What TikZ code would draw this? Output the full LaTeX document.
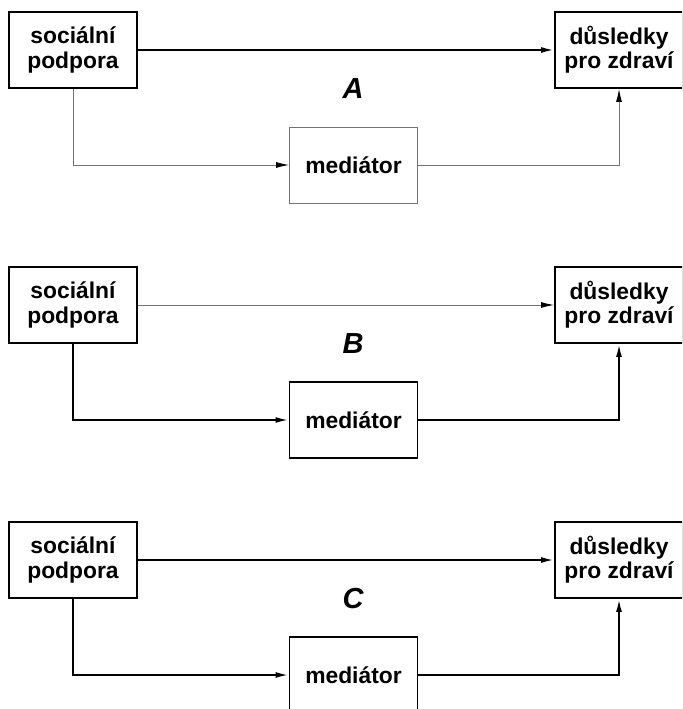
\documentclass[tikz,border=0pt]{standalone}
\usepackage{fontspec}
\setmainfont{Liberation Sans}
\usetikzlibrary{arrows.meta}

\begin{document}
\begin{tikzpicture}[x=0.02cm, y=-0.02cm,
  box/.style={rectangle, draw, line width=1.1pt, minimum width=2.56cm, minimum height=1.52cm, inner sep=0pt, align=center, font=\fontsize{13}{13.8}\selectfont\bfseries},
  faint/.style={draw=black!55, line width=0.5pt},
  link/.style={line width=1.1pt, -{Latex[length=2.6mm,width=1.2mm]}},
  weak/.style={draw=black!55, line width=0.5pt, -{Latex[length=2.6mm,width=1.2mm,black]}},
  tag/.style={font=\fontsize{16.5}{16.5}\selectfont\bfseries\itshape}
]
\clip (0,0) rectangle (682,709);

% A (mediated path weak)
\node[box] (sp1) at (73,50) {sociální\\podpora};
\node[box] (dz1) at (619,50) {důsledky\\pro zdraví};
\node[box, faint] (med1) at (353.5,165) {mediátor};
\node[tag] (lbA) at (353,89) {A};
\draw[link] (sp1) -- (dz1);
\draw[weak] (sp1.south) |- (med1.west);
\draw[weak] (med1.east) -| (dz1.south);

% B (direct path weak)
\node[box] (sp2) at (73,305) {sociální\\podpora};
\node[box] (dz2) at (619,305) {důsledky\\pro zdraví};
\node[box] (med2) at (353.5,420) {mediátor};
\node[tag] (lbB) at (353,344) {B};
\draw[weak] (sp2) -- (dz2);
\draw[link] (sp2.south) |- (med2.west);
\draw[link] (med2.east) -| (dz2.south);

% C (both paths)
\node[box] (sp3) at (73,560) {sociální\\podpora};
\node[box] (dz3) at (619,560) {důsledky\\pro zdraví};
\node[box] (med3) at (353.5,675) {mediátor};
\node[tag] (lbC) at (353,599) {C};
\draw[link] (sp3) -- (dz3);
\draw[link] (sp3.south) |- (med3.west);
\draw[link] (med3.east) -| (dz3.south);
\end{tikzpicture}
\end{document}
